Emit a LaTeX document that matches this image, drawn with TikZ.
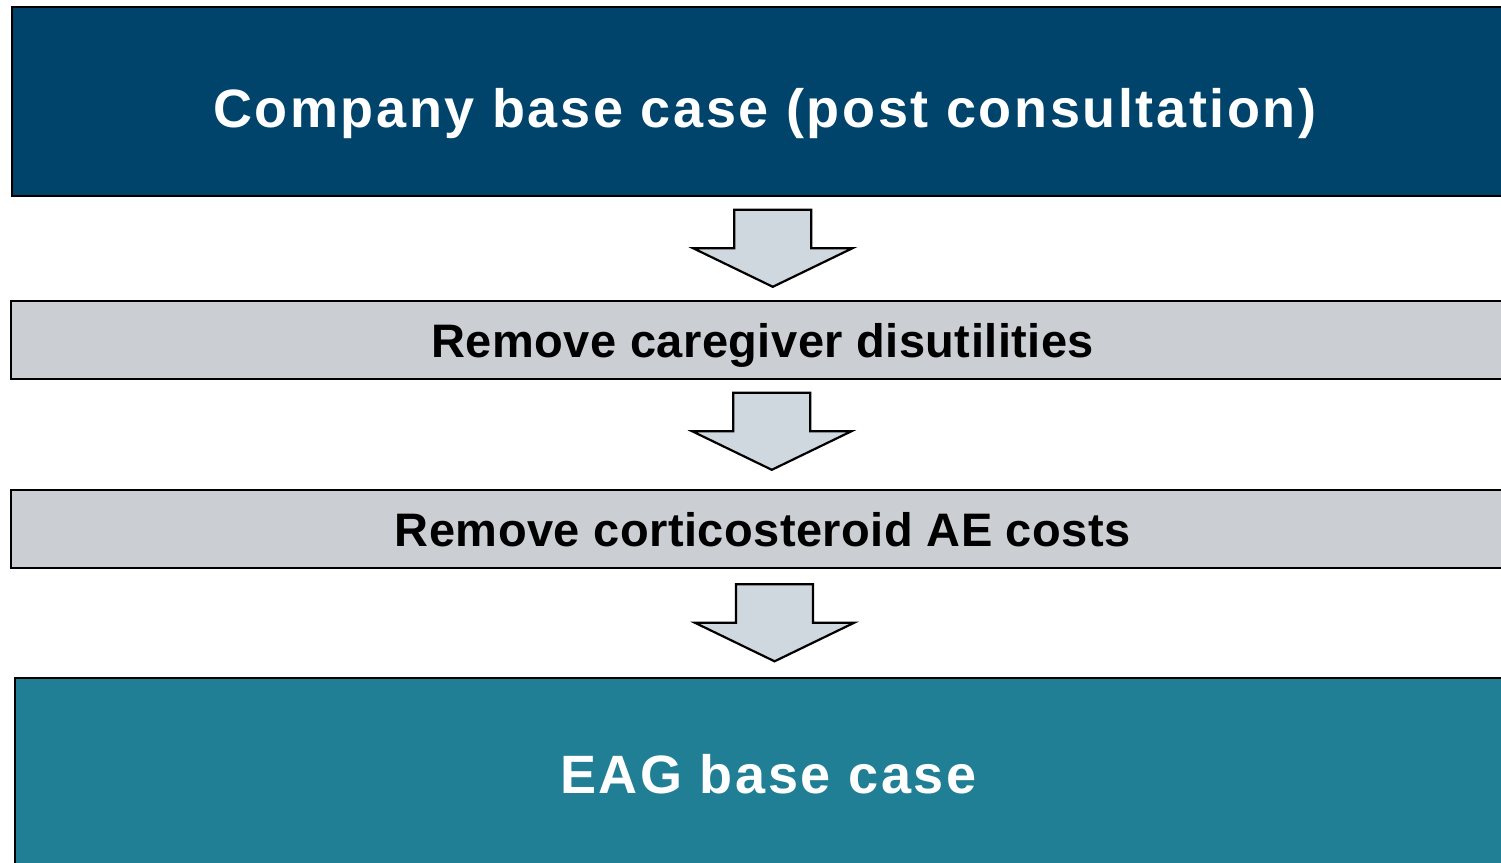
\documentclass[tikz,border=0pt]{standalone}
\usepackage{fontspec}
\setmainfont{Liberation Sans}
\usetikzlibrary{positioning,calc}
\definecolor{navy}{HTML}{00446C}
\definecolor{eagteal}{HTML}{217F95}
\definecolor{stepgrey}{HTML}{CBCED3}
\definecolor{arrfill}{HTML}{CED8DE}
\tikzset{
  casebox/.style={draw=black, line width=1.6pt, anchor=north west, inner sep=0pt,
    text=white, text depth=0pt,
    font=\addfontfeatures{LetterSpace=4.8}\bfseries\fontsize{54}{60}\selectfont},
  stepbox/.style={draw=black, line width=1.6pt, anchor=north west, inner sep=0pt,
    fill=stepgrey, text=black, text height=36pt, text depth=0pt,
    font=\addfontfeatures{LetterSpace=1}\bfseries\fontsize{47}{52}\selectfont,
    minimum width=1504pt, minimum height=78pt},
  blockarr/.style={draw=black, line width=2.2pt, fill=arrfill, line join=miter},
}

\begin{document}
\begin{tikzpicture}[x=1pt,y=-1pt]
\useasboundingbox (0,0) rectangle (1501,862);
\clip (0,0) rectangle (1501,862);

% ---- boxes -----------------------------------------------------------------
\node[casebox, fill=navy, minimum width=1506pt, minimum height=189pt, text height=53pt]
  (company) at (11,6) {Company base case (post consultation)};
\node[stepbox] (caregiver) at (10,300) {Remove caregiver disutilities};
\node[stepbox] (steroid)   at (10,489) {Remove corticosteroid AE costs};
\node[casebox, fill=eagteal, minimum width=1507pt, minimum height=200pt, text height=32pt]
  (eag) at (14,677) {EAG base case};

% ---- block arrows ----------------------------------------------------------
\foreach \a/\b/\dy in {company/caregiver/0, caregiver/steroid/-3, steroid/eag/0}{
  \coordinate (m) at ($(\a.south)!0.5!(\b.north)+(9,\dy)$);
  \draw[blockarr] ($(m)+(-38.5,-38.5)$) -- ++(77,0) -- ++(0,38.5) -- ++(41,0)
    -- ++(-79.5,38.5) -- ++(-79.5,-38.5) -- ++(41,0) -- cycle;
}

\end{tikzpicture}
\end{document}
